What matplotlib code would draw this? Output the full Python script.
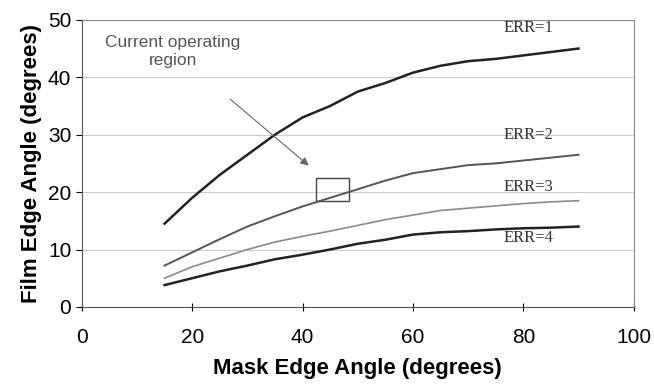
import numpy as np
import matplotlib.pyplot as plt

# mask edge angle (degrees)
mask_angle = [15, 20, 25, 30, 35, 40, 45, 50, 55, 60, 65, 70, 75, 80, 85, 90]
# film edge angle for each ERR value
err1 = [14.5, 19, 23, 26.5, 30, 33, 35, 37.5, 39, 40.8, 42, 42.8, 43.2, 43.8, 44.4, 45]
err2 = [7.2, 9.5, 11.8, 14, 15.8, 17.5, 19, 20.5, 22, 23.3, 24, 24.7, 25, 25.5, 26, 26.5]
err3 = [5, 7, 8.5, 10, 11.3, 12.3, 13.2, 14.2, 15.2, 16, 16.8, 17.2, 17.6, 18, 18.3, 18.5]
err4 = [3.8, 5, 6.2, 7.2, 8.3, 9.1, 10, 11, 11.7, 12.6, 13, 13.2, 13.5, 13.7, 13.8, 14]
labels = ['ERR=1', 'ERR=2', 'ERR=3', 'ERR=4']
label_y = [48.6, 30, 20.9, 12]

fig = plt.figure(figsize=(6.54, 3.89), dpi=100)
ax = fig.add_axes([0.125, 0.211, 0.844, 0.738])

ax.plot(mask_angle, err1, color='#222222', lw=1.8)
ax.plot(mask_angle, err2, color='#555555', lw=1.4)
ax.plot(mask_angle, err3, color='#8a8a8a', lw=1.2)
ax.plot(mask_angle, err4, color='#222222', lw=1.8)

for lab, y in zip(labels, label_y):
    ax.text(81, y, lab, family='Liberation Serif', fontsize=12, color='#333333',
            ha='center', va='center')

# operating region box + arrow
ax.add_patch(plt.Rectangle((42.5, 18.5), 6, 4, fill=False, ec='#444444', lw=1))
ax.annotate('', xy=(41.5, 24.3), xytext=(26.5, 36.5),
            arrowprops=dict(arrowstyle='-|>', color='#666666', lw=0.8, mutation_scale=12))
ax.text(16.5, 44.5, 'Current operating\nregion', ha='center', va='center',
        fontsize=12.5, color='#555555', family='Liberation Sans', linespacing=1.25)

ax.set_xlim(0, 100)
ax.set_ylim(0, 50)
ax.set_xticks([0, 20, 40, 60, 80, 100])
ax.set_yticks([0, 10, 20, 30, 40, 50])
ax.yaxis.grid(True, color='#cccccc', lw=0.8)
ax.set_axisbelow(True)
for s in ax.spines.values():
    s.set_color('#888888')
ax.spines['left'].set_color('#555555')
ax.spines['bottom'].set_color('#555555')
ax.tick_params(axis='x', direction='inout', length=6, pad=12, labelsize=15)
ax.tick_params(axis='y', direction='out', length=4, labelsize=15)
for t in ax.get_xticklabels() + ax.get_yticklabels():
    t.set_family('Liberation Sans')

ax.set_xlabel('Mask Edge Angle (degrees)', family='Liberation Sans', fontweight='bold',
              fontsize=16, labelpad=8)
ax.set_ylabel('Film Edge Angle (degrees)', family='Liberation Sans', fontweight='bold',
              fontsize=16, labelpad=4)

fig.savefig('out.png', dpi=100)
